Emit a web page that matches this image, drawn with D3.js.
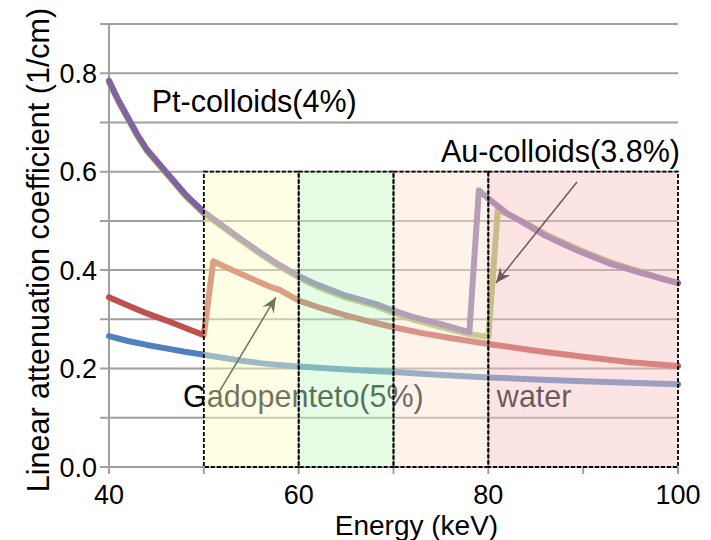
<!DOCTYPE html>
<html>
<head>
<meta charset="utf-8">
<script src="https://cdn.jsdelivr.net/npm/d3@7"></script>
<style>
  html, body { margin: 0; padding: 0; background: #fff; }
  svg { display: block; font-family: "Liberation Sans", Arial, sans-serif; }
</style>
</head>
<body>
<svg id="chart" width="711" height="540"></svg>
<script>
// ---------------- data ----------------
const waterE = [40,42,44,46,48,50,52,54,56,58,60,65,70,75,80,85,90,95,100];
const waterMu = [0.266,0.256,0.248,0.241,0.234,0.228,0.222,0.216,0.211,0.207,0.204,0.198,0.193,0.187,0.182,0.178,0.174,0.171,0.168];

const gdE = [40,42,44,46,48,50,51,53,55,57,58,60,62,65,68,70,73,76,80,85,90,95,100];
const gdMu = [0.345,0.328,0.312,0.298,0.283,0.268,0.418,0.400,0.383,0.366,0.360,0.338,0.325,0.308,0.293,0.284,0.272,0.262,0.250,0.236,0.224,0.213,0.205];

const auE = [40,41,42,43,44,46,48,50,52,54,56,58,60,62,65,68,70,72,75,78,80,81,82,84,86,88,90,93,96,98,100];
const auMu = [0.782,0.742,0.707,0.672,0.642,0.597,0.552,0.515,0.487,0.459,0.432,0.407,0.385,0.366,0.344,0.328,0.313,0.300,0.284,0.270,0.264,0.522,0.514,0.495,0.473,0.455,0.438,0.415,0.397,0.385,0.373];

const ptE = [40,41,42,43,44,46,48,50,52,54,56,58,60,62,65,68,70,72,75,78,79,80,82,84,86,88,90,93,96,98,100];
const ptMu = [0.785,0.745,0.710,0.675,0.645,0.600,0.555,0.518,0.490,0.462,0.435,0.410,0.388,0.370,0.348,0.332,0.318,0.305,0.290,0.274,0.562,0.545,0.515,0.493,0.470,0.452,0.435,0.412,0.395,0.384,0.374];

const xTickValues = [40,60,80,100];
const yTickLabels = ["0.0","0.2","0.4","0.6","0.8"];
const yGridValues = [0.1,0.2,0.3,0.4,0.5,0.6,0.7,0.8,0.9];
const xMinorTicks = [40,50,60,70,80,90,100];

const bandStart = [50,60,70,80];
const bandEnd = [60,70,80,100];
const bandTop = 0.6;

const seriesNames = ["water","Gadopenteto(5%)","Au-colloids(3.8%)","Pt-colloids(4%)"];

// ---------------- styles ----------------
const seriesColors = ["#4f81bd","#c0504d","#9bbb59","#8064a2"];
const bandColors = ["rgb(255,255,199)","rgb(197,251,197)","rgb(251,228,208)","rgb(251,195,195)"];

// ---------------- layout ----------------
const svg = d3.select("#chart");
const x = d3.scaleLinear().domain([40,100]).range([109,678]);
const y = d3.scaleLinear().domain([0,0.9]).range([467,24]);

const gridColor = "#a0a0a0";

// gridlines
svg.append("g").selectAll("line").data(yGridValues).join("line")
  .attr("x1", x(40) - 9).attr("x2", x(100))
  .attr("y1", d => y(d)).attr("y2", d => y(d))
  .attr("stroke", gridColor).attr("stroke-width", 2);

// y axis line
svg.append("line").attr("x1", x(40)).attr("x2", x(40))
  .attr("y1", y(0.9)).attr("y2", y(0))
  .attr("stroke", gridColor).attr("stroke-width", 2);
// x axis line + ticks
svg.append("line").attr("x1", x(40) - 9).attr("x2", x(100))
  .attr("y1", y(0)).attr("y2", y(0))
  .attr("stroke", gridColor).attr("stroke-width", 2);
svg.append("g").selectAll("line").data(xMinorTicks).join("line")
  .attr("x1", d => x(d)).attr("x2", d => x(d))
  .attr("y1", y(0)).attr("y2", y(0) + 7)
  .attr("stroke", gridColor).attr("stroke-width", 2);

// tick labels
svg.append("g").selectAll("text").data(yTickLabels).join("text")
  .attr("x", 97).attr("y", d => y(+d) + 9.5)
  .attr("text-anchor", "end").attr("font-size", 27).attr("fill", "#000")
  .text(d => d);
svg.append("g").selectAll("text").data(xTickValues).join("text")
  .attr("x", d => x(d)).attr("y", 504)
  .attr("text-anchor", "middle").attr("font-size", 27).attr("fill", "#000")
  .text(d => d);

// axis titles
svg.append("text").attr("x", (x(40) + x(100)) / 2 + 23).attr("y", 535)
  .attr("text-anchor", "middle").attr("font-size", 28).attr("fill", "#000")
  .text("Energy (keV)");
svg.append("text").attr("transform", "translate(49,250) rotate(-90)")
  .attr("text-anchor", "middle").attr("font-size", 30.5).attr("fill", "#000")
  .text("Linear attenuation coefficient (1/cm)");

// series
const seriesE = [waterE, gdE, auE, ptE];
const seriesMu = [waterMu, gdMu, auMu, ptMu];
const line = d3.line().x(d => x(d[0])).y(d => y(d[1]));
seriesE.forEach((E, i) => {
  const pts = E.map((e, j) => [e, seriesMu[i][j]]);
  svg.append("path").datum(pts)
    .attr("d", line)
    .attr("fill", "none")
    .attr("stroke", seriesColors[i])
    .attr("stroke-width", 6)
    .attr("stroke-linejoin", "round")
    .attr("stroke-linecap", "round");
});

// arrow marker
const defs = svg.append("defs");
defs.append("marker").attr("id", "arrowhead")
  .attr("markerUnits", "userSpaceOnUse")
  .attr("viewBox", "-16 -8 18 16")
  .attr("refX", 0).attr("refY", 0)
  .attr("markerWidth", 18).attr("markerHeight", 16)
  .attr("orient", "auto")
  .append("path").attr("d", "M0,0 L-15,-6.5 L-10,0 L-15,6.5 Z").attr("fill", "#000");

// labels beneath the bands
svg.append("text").attr("x", x(47.8)).attr("y", y(0.122))
  .attr("font-size", 30.5).attr("fill", "#000").text(seriesNames[1]);
svg.append("text").attr("x", x(80.9)).attr("y", y(0.122))
  .attr("font-size", 30.5).attr("fill", "#000").text(seriesNames[0]);

// arrows
svg.append("line")
  .attr("x1", x(51.6)).attr("y1", y(0.152))
  .attr("x2", x(57.6)).attr("y2", y(0.345))
  .attr("stroke", "#000").attr("stroke-width", 1.5)
  .attr("marker-end", "url(#arrowhead)");
svg.append("line")
  .attr("x1", x(89.35)).attr("y1", y(0.579))
  .attr("x2", x(80.8)).attr("y2", y(0.374))
  .attr("stroke", "#000").attr("stroke-width", 1.5)
  .attr("marker-end", "url(#arrowhead)");

// bands (semi-transparent overlays)
svg.append("g").selectAll("rect").data(bandStart).join("rect")
  .attr("x", d => x(d))
  .attr("y", y(bandTop))
  .attr("width", (d, i) => x(bandEnd[i]) - x(d))
  .attr("height", y(0) - y(bandTop))
  .attr("fill", (d, i) => bandColors[i])
  .attr("fill-opacity", 0.45);
svg.append("g").selectAll("rect").data(bandStart).join("rect")
  .attr("x", d => x(d))
  .attr("y", y(bandTop))
  .attr("width", (d, i) => x(bandEnd[i]) - x(d))
  .attr("height", y(0) - y(bandTop))
  .attr("fill", "none")
  .attr("stroke", "#000")
  .attr("stroke-width", 1.8)
  .attr("stroke-dasharray", "4,2");

// top labels
svg.append("text").attr("x", x(44.5)).attr("y", y(0.721))
  .attr("font-size", 30.5).attr("fill", "#000").text(seriesNames[3]);
svg.append("text").attr("x", x(75.0)).attr("y", y(0.619))
  .attr("font-size", 30.5).attr("fill", "#000").text(seriesNames[2]);
</script>
</body>
</html>
